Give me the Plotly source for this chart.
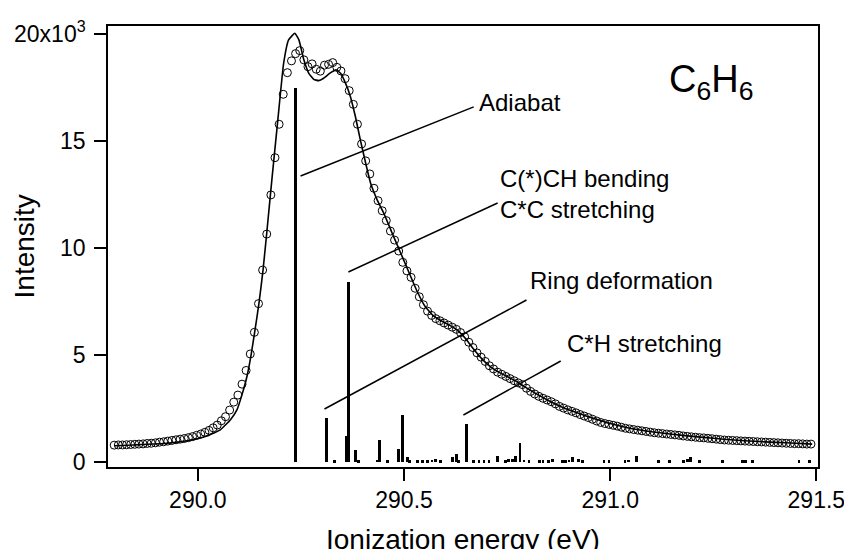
import plotly.graph_objects as go

# ---------------- data (intensity in units of 10^3) ----------------
# measured spectrum (open circles), 0.01 eV grid
circle_start = 289.797
circle_step = 0.01
circle_I = [
    0.79, 0.80, 0.80, 0.81, 0.82, 0.83, 0.84, 0.85, 0.87, 0.88,
    0.90, 0.93, 0.95, 0.98, 1.01, 1.04, 1.07, 1.10, 1.14, 1.19,
    1.25, 1.31, 1.39, 1.48, 1.60,
    1.73, 1.93, 2.12, 2.43, 2.80, 3.13, 3.64, 4.28, 5.05, 6.06,
    7.40, 8.97, 10.65, 12.48,
    14.22, 15.78, 17.18, 18.19, 18.74, 19.08, 19.22, 18.79, 18.47, 18.60,
    18.35, 18.26, 18.54, 18.58, 18.66, 18.44, 18.27, 17.91, 17.35,
    16.71, 15.78, 14.86, 14.07, 13.46, 12.79, 12.21, 11.74, 11.28, 10.79,
    10.37, 9.86, 9.33, 8.93, 8.63, 8.12, 7.72,
    7.35, 7.05, 6.85, 6.70, 6.60, 6.50, 6.40, 6.30, 6.20, 6.05,
    5.85, 5.60, 5.35, 5.10, 4.90, 4.70, 4.50, 4.35, 4.20, 4.10,
    4.00, 3.90, 3.80, 3.70,
    3.62, 3.45, 3.30, 3.18, 3.07, 2.98, 2.90, 2.82, 2.72, 2.60,
    2.52, 2.44, 2.37, 2.30, 2.22, 2.15, 2.08, 2.00, 1.92, 1.85,
    1.80, 1.76, 1.72, 1.68, 1.63, 1.58, 1.55, 1.52, 1.49, 1.46,
    1.43, 1.40, 1.37, 1.35, 1.33, 1.31, 1.29, 1.27, 1.25, 1.22,
    1.20, 1.18, 1.16, 1.14, 1.13, 1.11, 1.09, 1.07, 1.05, 1.03,
    1.02, 1.01, 1.00, 0.99, 0.98, 0.97, 0.96, 0.95, 0.94, 0.93,
    0.92, 0.91, 0.90, 0.89, 0.88, 0.87, 0.86, 0.86, 0.85, 0.84,
    0.84,
]
circle_E = [round(circle_start + circle_step * k, 4) for k in range(len(circle_I))]

# simulated spectrum (solid line)
fit_E = [289.797, 289.844, 289.925, 289.982, 290.022, 290.055, 290.079, 290.095,
         290.107, 290.119, 290.129, 290.138, 290.148, 290.158, 290.168, 290.180,
         290.194, 290.208, 290.220, 290.235, 290.245, 290.257, 290.269, 290.281,
         290.293, 290.305, 290.322, 290.335, 290.346, 290.358, 290.370, 290.382,
         290.394, 290.407, 290.419, 290.435, 290.451,
         290.47, 290.49, 290.51, 290.53, 290.55, 290.57, 290.59, 290.61, 290.63,
         290.65, 290.67, 290.69, 290.71, 290.73, 290.75, 290.77, 290.79,
         290.82, 290.85, 290.88, 290.92, 290.96,
         291.00, 291.05, 291.10, 291.15, 291.20, 291.25, 291.30, 291.35, 291.40,
         291.45, 291.49]
fit_I = [0.76, 0.80, 0.88, 1.02, 1.22, 1.52, 1.98, 2.45,
         3.15, 4.00, 5.00, 6.10, 7.40, 8.97, 10.9, 13.3,
         16.00, 18.63, 19.72, 20.03, 19.72, 18.79, 18.16, 17.88,
         17.82, 17.93, 18.19, 18.32, 18.16, 17.70, 17.07, 16.14,
         15.05, 13.96, 13.02, 12.24, 11.62,
         10.75, 9.85, 8.95, 8.05, 7.30, 6.85, 6.60, 6.40, 6.15,
         5.75, 5.25, 4.80, 4.45, 4.20, 4.00, 3.80, 3.55,
         3.20, 2.88, 2.60, 2.30, 2.04,
         1.80, 1.57, 1.42, 1.30, 1.20, 1.11, 1.03, 0.97, 0.92,
         0.88, 0.84]

# vibrational stick spectrum
stick_E = [290.236, 290.312, 290.332, 290.360, 290.366, 290.382, 290.390, 290.436,
           290.441, 290.459, 290.486, 290.497, 290.508, 290.513, 290.532, 290.544,
           290.556, 290.568, 290.576, 290.589, 290.617, 290.627, 290.633, 290.651,
           290.669, 290.682, 290.694, 290.706, 290.726, 290.746, 290.754, 290.763,
           290.771, 290.781, 290.791, 290.803, 290.829, 290.837, 290.851, 290.861,
           290.884, 290.892, 290.900, 290.908, 290.924, 290.933, 290.985, 290.997,
           291.036, 291.044, 291.064, 291.118, 291.143, 291.178, 291.187, 291.195,
           291.216, 291.272, 291.321, 291.329, 291.345, 291.458, 291.483]
stick_I = [17.48, 2.07, 0.08, 1.22, 8.41, 0.56, 0.08, 0.12,
           1.03, 0.08, 0.62, 2.18, 0.25, 0.08, 0.08, 0.08,
           0.08, 0.10, 0.15, 0.08, 0.25, 0.38, 0.08, 1.80,
           0.08, 0.08, 0.08, 0.08, 0.30, 0.08, 0.15, 0.15,
           0.30, 0.90, 0.10, 0.08, 0.08, 0.08, 0.08, 0.15,
           0.08, 0.08, 0.10, 0.25, 0.15, 0.08, 0.08, 0.08,
           0.08, 0.12, 0.28, 0.08, 0.08, 0.08, 0.15, 0.25,
           0.08, 0.08, 0.08, 0.08, 0.08, 0.08, 0.08]

x_ticks = [290.0, 290.5, 291.0, 291.5]
x_ticktext = ["290.0", "290.5", "291.0", "291.5"]
y_ticks = [0, 5, 10, 15, 20]
y_ticktext = ["0", "5", "10", "15", "20x10<sup>3</sup>"]

labels = ["Adiabat", "C(*)CH bending<br>C*C stretching", "Ring deformation", "C*H stretching"]
label_pos = [(290.676, 16.78), (290.729, 12.52), (290.800, 8.46), (290.890, 5.55)]
leader_lines = [((290.249, 13.36), (290.669, 16.59)),
                ((290.365, 8.88), (290.727, 12.10)),
                ((290.307, 2.48), (290.797, 7.57)),
                ((290.644, 2.20), (290.880, 4.72))]

FONT = "Liberation Sans, Arial, sans-serif"

fig = go.Figure()
fig.add_trace(go.Bar(x=stick_E, y=stick_I, width=0.0068,
                     marker=dict(color="black", line=dict(width=0))))
fig.add_trace(go.Scatter(x=fit_E, y=fit_I, mode="lines",
                         line=dict(color="black", width=1.6, shape="spline", smoothing=0.4)))
fig.add_trace(go.Scatter(x=circle_E, y=circle_I, mode="markers",
                         marker=dict(symbol="circle-open", size=8, color="black",
                                     line=dict(width=1, color="black"))))

for (p0, p1) in leader_lines:
    fig.add_shape(type="line", x0=p0[0], y0=p0[1], x1=p1[0], y1=p1[1],
                  xref="x", yref="y", line=dict(color="black", width=1.5))

for txt, (lx, ly) in zip(labels, label_pos):
    fig.add_annotation(x=lx, y=ly, xref="x", yref="y", text=txt, showarrow=False,
                       xanchor="left", yanchor="middle", align="left",
                       font=dict(family=FONT, size=24, color="black"))

fig.add_annotation(x=291.138, y=17.75, xref="x", yref="y",
                   text="C<sub>6</sub>H<sub>6</sub>", showarrow=False,
                   xanchor="left", yanchor="middle",
                   font=dict(family=FONT, size=38, color="black"))

# axis titles
fig.add_annotation(x=0.5, y=-0.165, xref="paper", yref="paper",
                   text="Ionization energy (eV)", showarrow=False,
                   xanchor="center", yanchor="middle",
                   font=dict(family=FONT, size=28, color="black"))
fig.add_annotation(x=-0.117, y=0.5, xref="paper", yref="paper",
                   text="Intensity", showarrow=False, textangle=-90,
                   xanchor="center", yanchor="middle",
                   font=dict(family=FONT, size=28, color="black"))

fig.update_layout(
    width=844, height=549,
    margin=dict(l=108, r=26, t=26, b=82),
    plot_bgcolor="white", paper_bgcolor="white",
    showlegend=False, bargap=0,
    font=dict(family=FONT, color="black"),
)
fig.update_xaxes(range=[289.782, 291.504], tickvals=x_ticks, ticktext=x_ticktext,
                 ticks="outside", ticklen=12, tickwidth=1.5, tickcolor="black",
                 showline=True, linewidth=1.5, linecolor="black", mirror=True,
                 showgrid=False, zeroline=False, automargin=False,
                 ticklabeloverflow="allow",
                 tickfont=dict(family=FONT, size=23, color="black"))
fig.update_yaxes(range=[-0.23, 20.37], tickvals=y_ticks, ticktext=y_ticktext,
                 ticks="outside", ticklen=12, tickwidth=1.5, tickcolor="black",
                 showline=True, linewidth=1.5, linecolor="black", mirror=True,
                 showgrid=False, zeroline=False, automargin=False,
                 ticklabelstandoff=4, ticklabeloverflow="allow",
                 tickfont=dict(family=FONT, size=23, color="black"))

fig.write_html("out.html")
